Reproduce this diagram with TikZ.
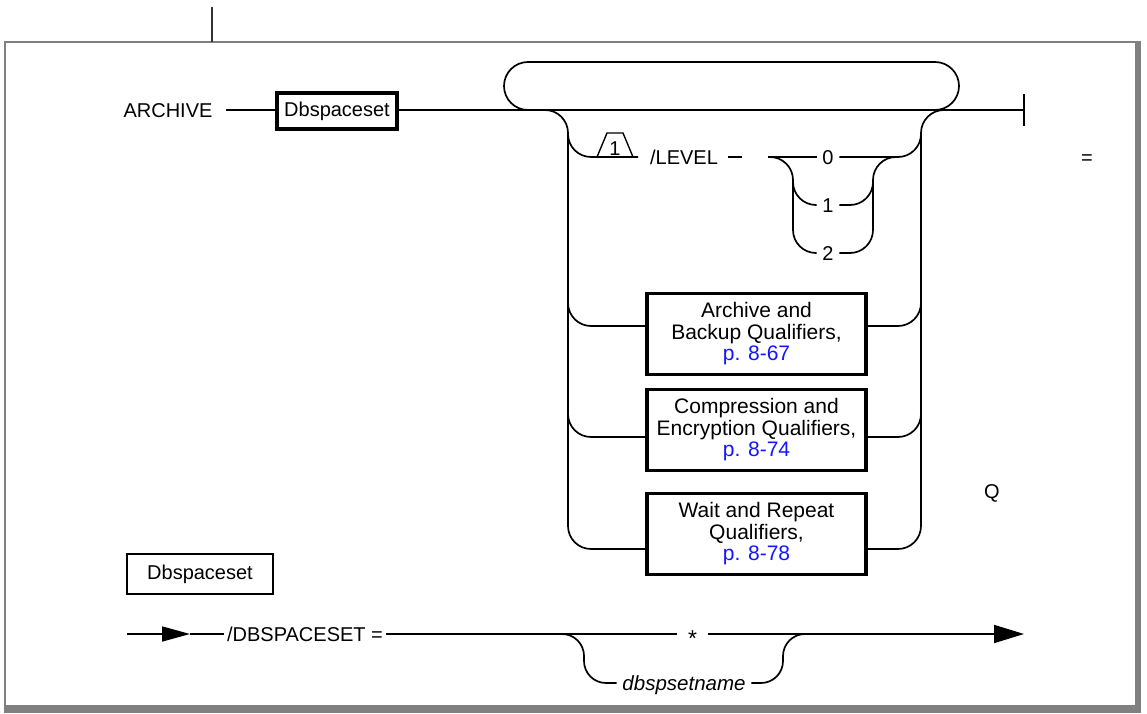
\documentclass[tikz,border=0pt]{standalone}
\usepackage{fontspec}
\setmainfont{Liberation Sans}
\usetikzlibrary{arrows.meta}
\definecolor{framegray}{RGB}{128,128,128}
\definecolor{linkblue}{RGB}{20,20,255}
\begin{document}
\begin{tikzpicture}[x=1pt,y=1pt,line width=1.7pt,
  every node/.style={font=\fontsize{20}{22}\selectfont, inner sep=0pt},
  lbl/.style={text height=14.3pt, text depth=0pt, inner xsep=5pt},
  kwbox/.style={draw, line width=3.2pt, minimum width=120pt, minimum height=36pt},
  qbox/.style={draw, line width=3.2pt, minimum width=219pt, minimum height=81pt,
    align=center, font=\fontsize{21}{21.5}\selectfont},
  defbox/.style={draw, line width=2.4pt, minimum width=146pt, minimum height=40pt},
  lnk/.style={text=linkblue}]
\useasboundingbox (0,0) rectangle (1147,713);
% frame
\draw[framegray, line width=2.5pt] (5,0) -- (5,671) -- (1138,671);
\fill[framegray] (1135,0) rectangle (1141,672.25);
\fill[framegray] (3.75,0) rectangle (1141,8);
\draw[black!80, line width=1.2pt] (212,671) -- (212,706);
% top diagram
\node[lbl] (arch) at (168,603) {ARCHIVE};
\node[kwbox] (dbs) at (337,602) {Dbspaceset};
\coordinate (endp) at (1024,603);
\draw ([xshift=8pt]arch.east) -- (dbs.west |- endp);
\draw (dbs.east |- endp) -- (endp);
\draw (1024,619) -- (1024,587);
% repeat loop
\draw (528,603) arc[start angle=270,end angle=90,radius=24] -- (935,651)
      arc[start angle=90,end angle=-90,radius=24];
% qualifier boxes
\node[qbox] (qa) at (756.5,379) {Archive and\\Backup Qualifiers,\\\textcolor{linkblue}{p. 8-67}};
\node[qbox] (qc) at (756.5,283) {Compression and\\Encryption Qualifiers,\\\textcolor{linkblue}{p. 8-74}};
\node[qbox] (qw) at (756.5,179) {Wait and Repeat\\Qualifiers,\\\textcolor{linkblue}{p. 8-78}};
% left rail
\draw (545,603) arc[start angle=90,end angle=0,radius=23] -- (568,187)
      arc[start angle=180,end angle=270,radius=23] -- ([yshift=-15pt]qw.west);
\draw (568,410) arc[start angle=180,end angle=270,radius=23] -- ([yshift=8pt]qa.west);
\draw (568,299) arc[start angle=180,end angle=270,radius=23] -- ([yshift=-7pt]qc.west);
% right rail
\draw ([yshift=-15pt]qw.east) -- (898,164) arc[start angle=270,end angle=360,radius=23]
      -- (921,580) arc[start angle=180,end angle=90,radius=23];
\draw ([yshift=8pt]qa.east) -- (898,387) arc[start angle=270,end angle=360,radius=23];
\draw ([yshift=-7pt]qc.east) -- (898,276) arc[start angle=270,end angle=360,radius=23];
% LEVEL branch
\node[lbl] (lvl) at (684,556) {/LEVEL};
\draw (568,579) arc[start angle=180,end angle=270,radius=23] -- ([xshift=-6pt]lvl.west);
\draw[line width=1.4pt] (597,556) -- (607,580) -- (623,580) -- (633,556);
\node (fn) at (615,564) {1};
\draw ([xshift=4pt]lvl.east) -- ++(14,0);
\node[lbl] (z0) at (828,556) {0};
\node[lbl] (z1) at (828,508) {1};
\node[lbl] (z2) at (828,460) {2};
\draw (768,556) -- (z0.west);
\draw (z0.east) -- (898,556) arc[start angle=270,end angle=360,radius=23];
\draw (770,556) arc[start angle=90,end angle=0,radius=23] -- (793,483)
      arc[start angle=180,end angle=270,radius=23] -- (z2.west);
\draw (793,531) arc[start angle=180,end angle=270,radius=23] -- (z1.west);
\draw (z2.east) -- (850,460) arc[start angle=270,end angle=360,radius=23]
      -- (873,533) arc[start angle=180,end angle=90,radius=23];
\draw (z1.east) -- (850,508) arc[start angle=270,end angle=360,radius=23];
% stray characters
\node[lbl] (eq) at (1087,556) {=};
\node[lbl] (q) at (992,222) {Q};
% bottom definition
\node[defbox] (dbs2) at (200,139) {Dbspaceset};
\coordinate (start) at (127,79);
\coordinate (mid) at (190,79);
\node[lbl, inner xsep=2pt] (dset) at (305,79) {/DBSPACESET =};
\node[anchor=base, inner xsep=10pt, font=\fontsize{23}{24}\selectfont] (star) at (692.5,67) {*};
\node[lbl, font=\fontsize{20.5}{22}\selectfont\itshape] (dbn) at (684,30) {dbspsetname};
\coordinate (tip) at (1024,79);
\draw[-{Triangle[length=28pt,width=15pt]}] (start) -- (mid);
\draw (mid) -- (dset.west);
\draw (dset.east) -- ++(6,0) -- (star.west |- dset.east);
\draw[-{Triangle[length=30pt,width=18pt]}] (star.east |- dset.east) -- (tip);
\draw (562,79) arc[start angle=90,end angle=0,radius=22] -- (584,52)
      arc[start angle=180,end angle=270,radius=22] -- (dbn.west);
\draw (dbn.east) -- (761,30) arc[start angle=270,end angle=360,radius=22]
      -- (783,57) arc[start angle=180,end angle=90,radius=22];
\end{tikzpicture}
\end{document}
